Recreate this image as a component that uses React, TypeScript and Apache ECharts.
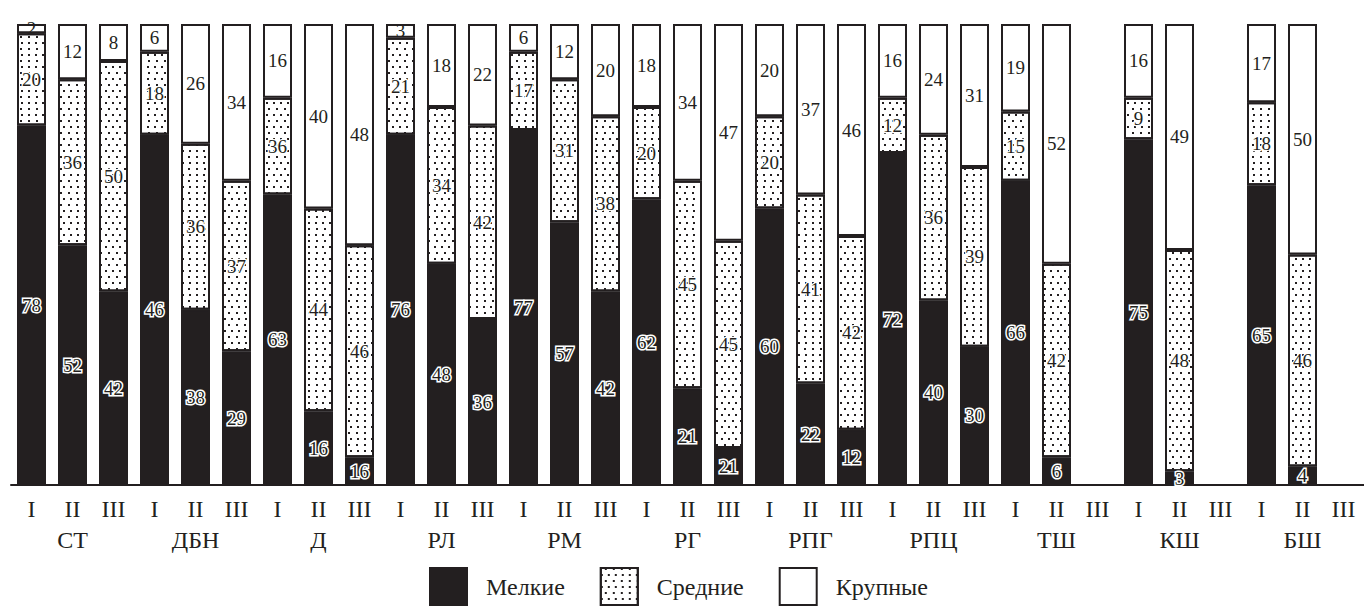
import React, { useEffect, useRef } from "react";
import * as echarts from "echarts";

const groups = ["СТ", "ДБН", "Д", "РЛ", "РМ", "РГ", "РПГ", "РПЦ", "ТШ", "КШ", "БШ"];
const subLabels = ["I", "II", "III"];

// Мелкие (bottom), Средние (middle), Крупные (top) — drawn shares, %
const smallValues = [78, 52, 42, 76, 38, 29, 63, 16, 6, 76, 48, 36, 77, 57, 42, 62, 21, 8, 60, 22, 12, 72, 40, 30, 66, 6, null, 75, 3, null, 65, 4, null];
const mediumValues = [20, 36, 50, 18, 36, 37, 21, 44, 46, 21, 34, 42, 17, 31, 38, 20, 45, 45, 20, 41, 42, 12, 36, 39, 15, 42, null, 9, 48, null, 18, 46, null];
const largeValues = [2, 12, 8, 6, 26, 34, 16, 40, 48, 3, 18, 22, 6, 12, 20, 18, 34, 47, 20, 37, 46, 16, 24, 31, 19, 52, null, 16, 49, null, 17, 50, null];

// numbers printed in the original that differ from the drawn heights
const smallPrinted: Record<number, string> = { 3: "46", 8: "16", 17: "21" };
const mediumPrinted: Record<number, string> = { 6: "36" };

const seriesNames = ["Мелкие", "Средние", "Крупные"];

const categories: string[] = [];
groups.forEach((g) => {
  subLabels.forEach((s, j) => {
    categories.push(j === 1 ? `${s}\n${g}` : s);
  });
});

export default function App() {
  const ref = useRef<HTMLDivElement>(null);

  useEffect(() => {
    document.body.style.margin = "0";
    if (!ref.current) return;
    const chart = echarts.init(ref.current, null, { renderer: "svg" });
    const font = "Liberation Serif";
    const ink = "#231f20";

    const dotDecal = {
      symbol: "rect",
      symbolSize: 1,
      color: ink,
      backgroundColor: "#ffffff",
      dashArrayX: [
        [2, 5],
        [0, 3.5, 2, 1.5],
      ],
      dashArrayY: [2, 4],
      rotation: 0,
    };

    const mkLabel = (printed: Record<number, string>, halo: number) => ({
      show: true,
      position: "inside",
      fontFamily: font,
      fontWeight: "normal",
      fontSize: 19,
      color: ink,
      textBorderColor: "#ffffff",
      textBorderWidth: halo,
      formatter: (p: any) => {
        if (p.value == null) return "";
        return printed[p.dataIndex] ?? String(p.value);
      },
    });

    const common = {
      type: "bar",
      stack: "total",
      barWidth: 29,
    };

    chart.setOption({
      animation: false,
      textStyle: { fontFamily: font },
      grid: { left: 11, right: -2, top: 24, bottom: 122 },
      legend: {
        left: 429,
        top: 567,
        padding: 0,
        icon: "rect",
        itemWidth: 37,
        itemHeight: 37,
        itemGap: 35,
        itemStyle: { borderColor: ink, borderWidth: 2 },
        textStyle: {
          fontFamily: font,
          fontSize: 24,
          color: ink,
          padding: [0, 0, 0, 14],
        },
        data: seriesNames,
      },
      xAxis: {
        type: "category",
        data: categories,
        axisLine: { lineStyle: { color: ink, width: 2 } },
        axisTick: { inside: true, length: 8, lineStyle: { color: ink, width: 2 } },
        axisLabel: {
          interval: 0,
          margin: 8,
          fontFamily: font,
          fontSize: 24,
          lineHeight: 31,
          color: ink,
        },
      },
      yAxis: { type: "value", min: 0, max: 100, show: false },
      series: [
        {
          ...common,
          name: seriesNames[0],
          data: smallValues,
          itemStyle: { color: ink, borderColor: ink, borderWidth: 2 },
          label: mkLabel(smallPrinted, 3),
        },
        {
          ...common,
          name: seriesNames[1],
          data: mediumValues,
          itemStyle: {
            color: "#ffffff",
            decal: dotDecal,
            borderColor: ink,
            borderWidth: 2,
          },
          label: mkLabel(mediumPrinted, 2.5),
        },
        {
          ...common,
          name: seriesNames[2],
          data: largeValues,
          itemStyle: { color: "#ffffff", borderColor: ink, borderWidth: 2 },
          label: mkLabel({}, 0),
        },
      ],
    });

    return () => chart.dispose();
  }, []);

  return <div ref={ref} style={{ width: 1364, height: 607 }} />;
}
